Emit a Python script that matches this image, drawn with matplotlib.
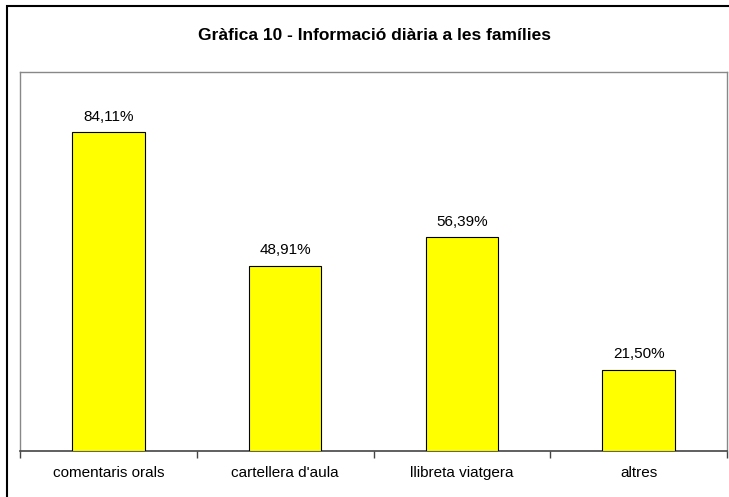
import numpy as np
import matplotlib
matplotlib.use("Agg")
import matplotlib.pyplot as plt
from matplotlib.patches import Rectangle

plt.rcParams['font.family'] = ['Liberation Sans', 'DejaVu Sans']

## DATA
categories = ["comentaris orals", "cartellera d'aula", "llibreta viatgera", "altres"]
values = [84.11, 48.91, 56.39, 21.50]
value_labels = ["84,11%", "48,91%", "56,39%", "21,50%"]
title = "Gràfica 10 - Informació diària a les famílies"

W, H = 729, 497
fig = plt.figure(figsize=(W / 100, H / 100), dpi=100)

# outer frame (cut off at right and bottom like the original)
fig.patches.append(Rectangle((7 / W, -0.05), 1.1, 1 - 6 / H + 0.05, transform=fig.transFigure,
                             fill=False, edgecolor='black', linewidth=1.5))

# plot area: x 20..727, y 72..451 (pixels from top)
ax = fig.add_axes([20 / W, 1 - 451 / H, (727 - 20) / W, (451 - 72) / H])

x = np.arange(len(categories))
ax.bar(x, values, width=0.41, color='#ffff00', edgecolor='black', linewidth=0.8, zorder=3)

for xi, v, lab in zip(x, values, value_labels):
    ax.annotate(lab, (xi, v), xytext=(0, 6), textcoords='offset points',
                ha='center', va='bottom', fontsize=11)

ax.set_xlim(-0.5, len(categories) - 0.5)
ax.set_ylim(0, 100)
ax.set_yticks([])

# category labels centred, ticks on category boundaries
ax.set_xticks(x)
ax.set_xticklabels(categories, fontsize=11)
ax.tick_params(axis='x', which='major', length=0, pad=11)
ax.set_xticks(np.arange(-0.5, len(categories)), minor=True)
ax.tick_params(axis='x', which='minor', length=5, width=1, color='#444444', direction='out')

for side in ['top', 'right', 'left']:
    ax.spines[side].set_color('#888888')
    ax.spines[side].set_linewidth(1)
ax.spines['bottom'].set_color('#444444')
ax.spines['bottom'].set_linewidth(1.2)

fig.text(375 / W, 1 - 35 / H, title, ha='center', va='center', fontsize=12.5, fontweight='bold')

fig.savefig('out.png', dpi=100)
